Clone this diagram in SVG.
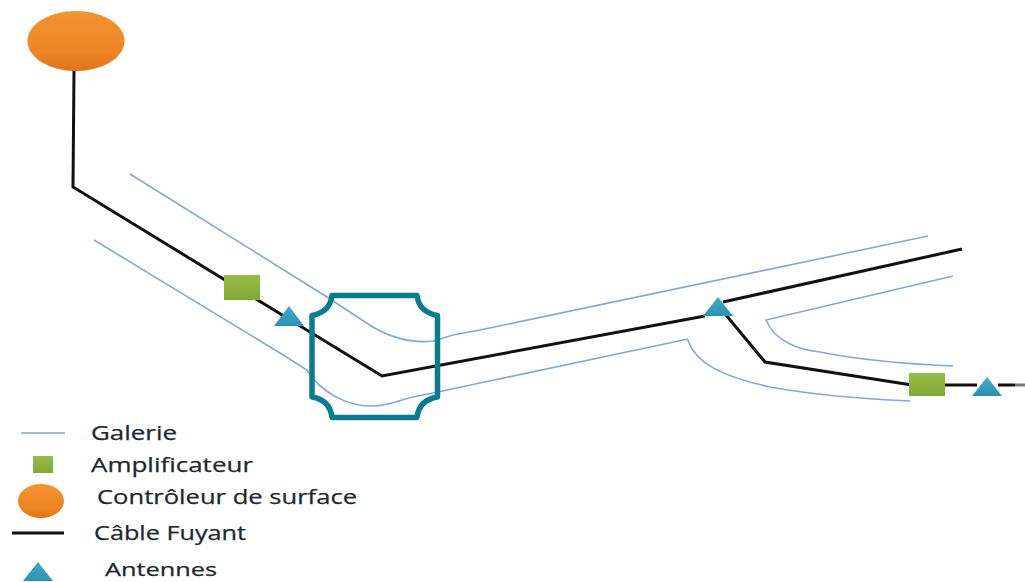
<svg xmlns="http://www.w3.org/2000/svg" width="1025" height="582" viewBox="0 0 1025 582">
<defs>
<linearGradient id="org" x1="0" y1="0" x2="0" y2="1"><stop offset="0" stop-color="#f49433"/><stop offset="0.7" stop-color="#ee8424"/><stop offset="1" stop-color="#e0741a"/></linearGradient>
<linearGradient id="grn" x1="0" y1="0" x2="0" y2="1"><stop offset="0" stop-color="#98bc46"/><stop offset="1" stop-color="#83a83a"/></linearGradient>
<linearGradient id="tri" x1="0" y1="0" x2="0" y2="1"><stop offset="0" stop-color="#3eaec6"/><stop offset="1" stop-color="#2c90b2"/></linearGradient>
</defs>
<style>
.gal{fill:none;stroke:#86a6d8;stroke-width:1.6}
.cab{fill:none;stroke:#111;stroke-width:3}
.amp{fill:url(#grn);stroke:none}
.ant{fill:url(#tri);stroke:none}
.ctl{fill:url(#org);stroke:none}
text{font-family:"Open Sans","Noto Sans","DejaVu Sans",sans-serif;font-size:20px;fill:#22262e;stroke:#22262e;stroke-width:.25}
</style>
<rect width="1025" height="582" fill="#fff"/>
<g id="connectors">
<path class="gal" d="M130 174L327 297L365 322C385 336 410 344 433 341L453 335L480 330L928 236"/>
<path class="gal" d="M94 240L280 353L307 370C320 392 348 407 373 406C388 406 400 400 413 397L433 393L480 383L688 339"/>
<path class="gal" d="M688 340C695 362 720 376 770 387C820 396 865 399 910 401"/>
<path class="gal" d="M953 276L766 320C775 342 800 350 820 352C860 360 905 364 953 366"/>
<path class="cab" d="M74 70L73 187L382 376L705 316"/>
<path class="cab" d="M723 302L962 249"/>
<path class="cab" d="M726 315L765 362L912 385"/>
<path class="cab" d="M945 385L977 385M998 385L1015 385"/>
<path d="M1015 385H1025" stroke="#777" stroke-width="3" fill="none"/>
</g>
<g id="node-controleur"><ellipse class="ctl" cx="76" cy="41" rx="48.500" ry="30"/></g>
<g id="node-amp1"><rect class="amp" x="224" y="275" width="36" height="25"/></g>
<g id="node-ant1"><polygon class="ant" points="289,306 304,326 274,326"/></g>
<g id="node-ant2"><polygon class="ant" points="718,297 733,316 703,316"/></g>
<g id="node-amp2"><rect class="amp" x="909" y="373" width="36" height="23"/></g>
<g id="node-ant3"><polygon class="ant" points="987,377 1002,396 972,396"/></g>
<g id="node-zone"><path fill="none" stroke="#0b7c90" stroke-width="5.500" stroke-linejoin="round" d="M332 295.500H417Q419 312 437.500 315.500V397Q419 400 417 417.500H332Q330 400 312 397V315.500Q330 312 332 295.500Z"/></g>
<g id="legend">
<path class="gal" d="M21 433H65"/><text x="91" y="440" textLength="86" lengthAdjust="spacingAndGlyphs">Galerie</text>
<rect class="amp" x="33" y="456" width="20" height="17"/><text x="91" y="472" textLength="162" lengthAdjust="spacingAndGlyphs">Amplificateur</text>
<ellipse class="ctl" cx="41" cy="501" rx="23" ry="17"/><text x="97" y="504" textLength="260" lengthAdjust="spacingAndGlyphs">Contrôleur de surface</text>
<path class="cab" d="M12 533H64"/><text x="94" y="540" textLength="152" lengthAdjust="spacingAndGlyphs">Câble Fuyant</text>
<polygon class="ant" points="38,562 53,581 23,581"/><text x="105" y="576" font-size="19" style="font-size:19px" textLength="112" lengthAdjust="spacingAndGlyphs">Antennes</text>
</g>
</svg>
